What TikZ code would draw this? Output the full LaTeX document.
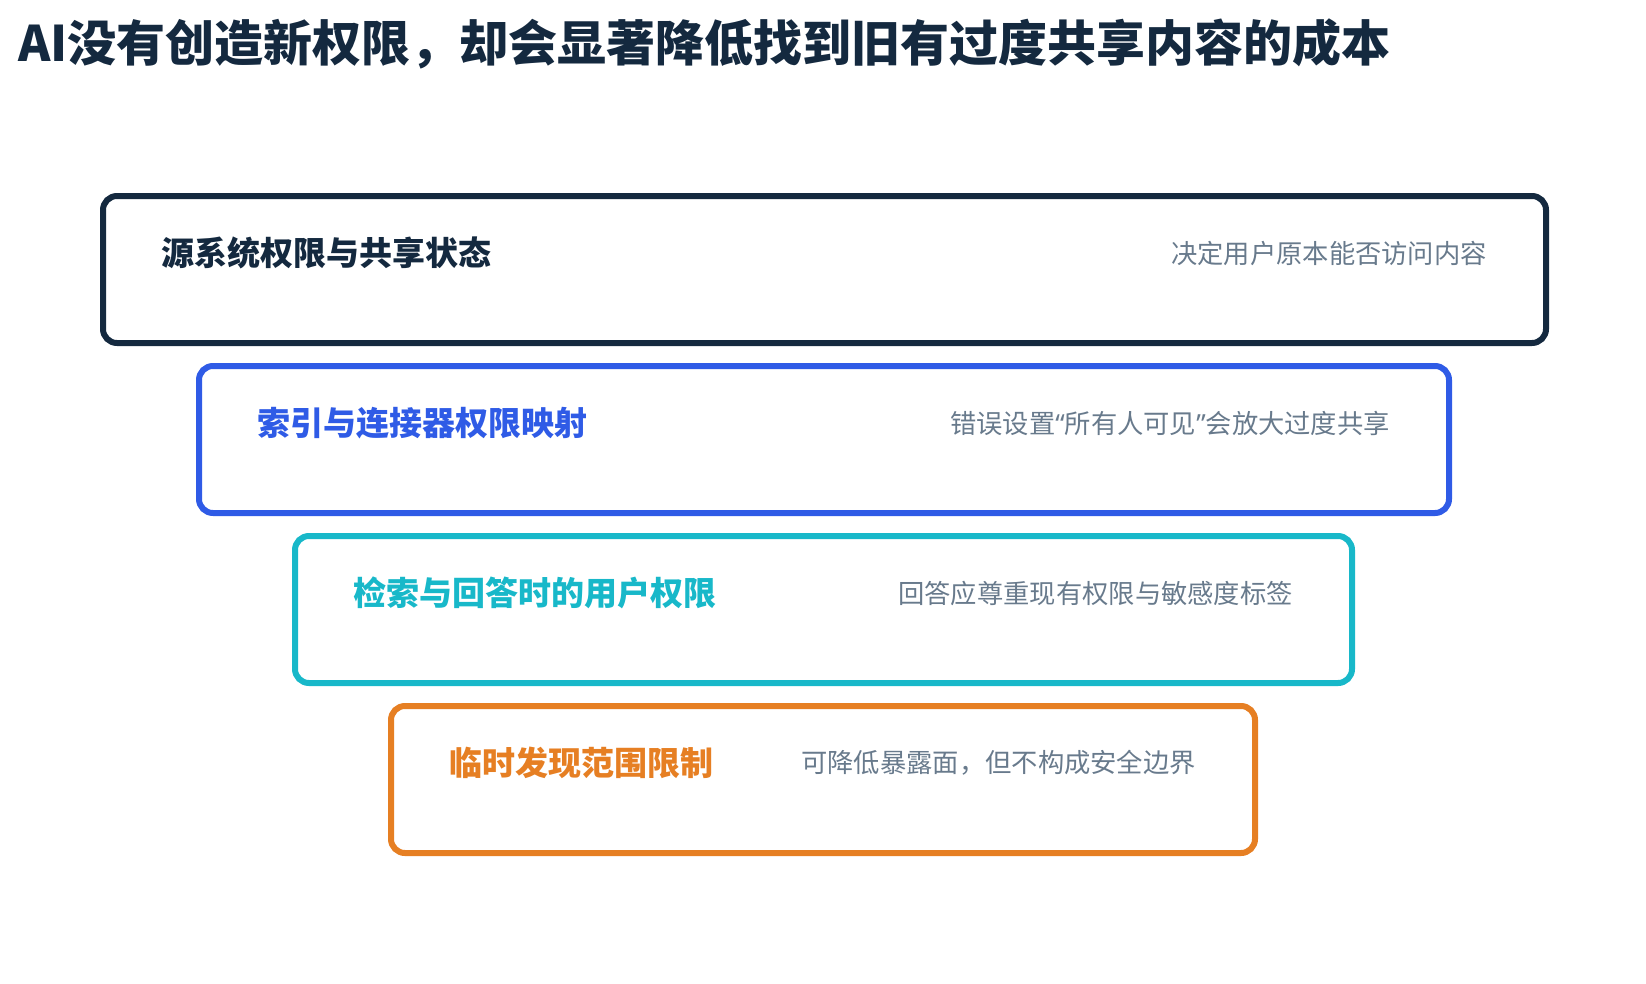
\documentclass[tikz,border=0pt]{standalone}
\usepackage{fontspec}
\setmainfont{Noto Sans CJK SC}
\newfontfamily\latinq{Noto Sans}
\usetikzlibrary{positioning}
\definecolor{navy}{HTML}{14293F}
\definecolor{royal}{HTML}{2F5BE6}
\definecolor{teal}{HTML}{18B8C9}
\definecolor{amber}{HTML}{E67F23}
\definecolor{slate}{HTML}{687A8C}
\begin{document}
\begin{tikzpicture}[x=1pt,y=-1pt,
  layer/.style={draw=#1,line width=6pt,rounded corners=14pt,minimum height=147pt,inner sep=0pt},
  head/.style={text=#1,anchor=west,inner sep=0pt,font=\fontsize{33}{40}\selectfont\bfseries},
  note/.style={text=slate,anchor=east,inner sep=0pt,font=\fontsize{26.3}{32}\selectfont}]
\useasboundingbox (0,0) rectangle (1646,983);
\node [anchor=west,inner sep=0pt,text=navy,font=\fontsize{49}{58}\selectfont\bfseries] (title) at (18,44) {AI没有创造新权限，却会显著降低找到旧有过度共享内容的成本};

\node [layer=navy,minimum width=1443pt] (src) at (824.5,269.5) {};
\node [head=navy] (srch) at ([xshift=61pt,yshift=16.5pt]src.west) {源系统权限与共享状态};
\node [note] (srcn) at ([xshift=-62pt,yshift=16.5pt]src.east) {决定用户原本能否访问内容};

\node [layer=royal,minimum width=1250pt] (idx) at (824,439.5) {};
\node [head=royal] (idxh) at ([xshift=61pt,yshift=16.5pt]idx.west) {索引与连接器权限映射};
\node [note] (idxn) at ([xshift=-62pt,yshift=16.5pt]idx.east) {错误设置{\latinq “}所有人可见{\latinq ”}会放大过度共享};

\node [layer=teal,minimum width=1057pt] (ret) at (823.5,609.5) {};
\node [head=teal] (reth) at ([xshift=61pt,yshift=16.5pt]ret.west) {检索与回答时的用户权限};
\node [note] (retn) at ([xshift=-62pt,yshift=16.5pt]ret.east) {回答应尊重现有权限与敏感度标签};

\node [layer=amber,minimum width=864pt] (tmp) at (823,779.5) {};
\node [head=amber] (tmph) at ([xshift=61pt,yshift=16.5pt]tmp.west) {临时发现范围限制};
\node [note] (tmpn) at ([xshift=-62pt,yshift=16.5pt]tmp.east) {可降低暴露面，但不构成安全边界};
\end{tikzpicture}
\end{document}
